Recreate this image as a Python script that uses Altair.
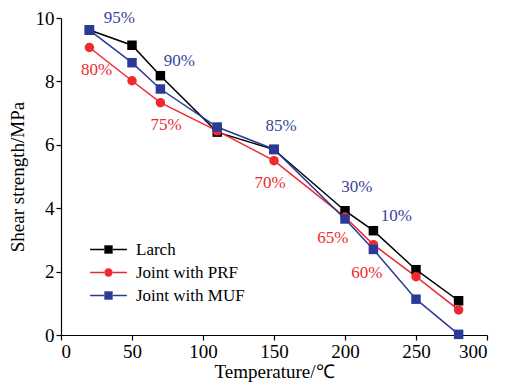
import altair as alt
import pandas as pd

temps = [20, 50, 70, 110, 150, 200, 220, 250, 280]
larch = [9.62, 9.14, 8.18, 6.40, 5.85, 3.92, 3.29, 2.06, 1.08]
prf = [9.07, 8.02, 7.33, 6.44, 5.50, 3.72, 2.85, 1.84, 0.79]
muf = [9.62, 8.59, 7.76, 6.56, 5.86, 3.66, 2.70, 1.13, 0.02]

series_names = ["Larch", "Joint with PRF", "Joint with MUF"]
series_keys = [n + " " for n in series_names]
series_colors = ["#000000", "#ee2a2f", "#2b3a97"]
point_shapes = ["square", "circle", "square"]
line_symbol = "M-4.4,0L-1,0M1,0L4.4,0"

label_text = ["95%", "90%", "85%", "30%", "10%", "80%", "75%", "70%", "65%", "60%"]
label_t = [41, 83.4, 155, 208.3, 236.1, 25.1, 74.0, 147.3, 191.4, 215.4]
label_v = [10.0, 8.65, 6.58, 4.66, 3.76, 8.36, 6.61, 4.79, 3.06, 1.96]
label_color = ["#3a449c"] * 5 + ["#ee2a2f"] * 5

rows = []
for name, key, vals in zip(series_names, series_keys, [larch, prf, muf]):
    for t, v in zip(temps, vals):
        rows.append({"Temperature": t, "Strength": v, "Series": name, "Key": key})
df = pd.DataFrame(rows)

labels = pd.DataFrame({"t": label_t, "v": label_v, "text": label_text, "c": label_color})

FONT = "Liberation Serif"
LX, LY = 39, 223

x = alt.X("Temperature:Q", scale=alt.Scale(domain=[0, 300], nice=False),
          axis=alt.Axis(values=[0, 50, 100, 150, 200, 250, 300], title="Temperature/℃"))
y = alt.Y("Strength:Q", scale=alt.Scale(domain=[0, 10], nice=False),
          axis=alt.Axis(values=[0, 2, 4, 6, 8, 10], title="Shear strength/MPa"))


def make_legend(**kw):
    return alt.Legend(title=None, orient="none", legendX=LX, legendY=LY, symbolSize=70,
                      labelFont=FONT, labelFontSize=17, labelColor="#000",
                      rowPadding=5, labelOffset=19, padding=0, **kw)


leg_line = make_legend(symbolType=line_symbol, symbolStrokeWidth=1.5, labelOpacity=0)
leg_pt = make_legend()

lines = alt.Chart(df).mark_line(strokeWidth=1.5).encode(
    x=x, y=y,
    stroke=alt.Stroke("Key:N", scale=alt.Scale(domain=series_keys, range=series_colors), legend=leg_line),
    detail="Series:N",
)

points = alt.Chart(df).mark_point(filled=True, size=90, opacity=1).encode(
    x=x, y=y,
    color=alt.Color("Series:N", scale=alt.Scale(domain=series_names, range=series_colors), legend=leg_pt),
    shape=alt.Shape("Series:N", scale=alt.Scale(domain=series_names, range=point_shapes), legend=leg_pt),
)

text = alt.Chart(labels).mark_text(font=FONT, fontSize=17).encode(
    x=alt.X("t:Q"), y=alt.Y("v:Q"), text="text:N", color=alt.Color("c:N", scale=None)
)

chart = alt.layer(lines, points, text).properties(
    width=426, height=317,
    autosize=alt.AutoSizeParams(type="none"),
    padding={"left": 53, "top": 10, "right": 15, "bottom": 52},
).configure_view(stroke=None).configure_axis(
    grid=False, domainColor="#000", tickColor="#000", tickSize=5, domainWidth=1.2, tickWidth=1.2,
    labelFont=FONT, labelFontSize=19, labelColor="#000", titleFont=FONT, titleFontSize=19,
    titleColor="#000", titleFontWeight="normal", labelPadding=2,
).configure_axisX(titlePadding=1).configure_axisY(titlePadding=8)

chart.save("out.html", embed_options={"renderer": "svg", "actions": False})
